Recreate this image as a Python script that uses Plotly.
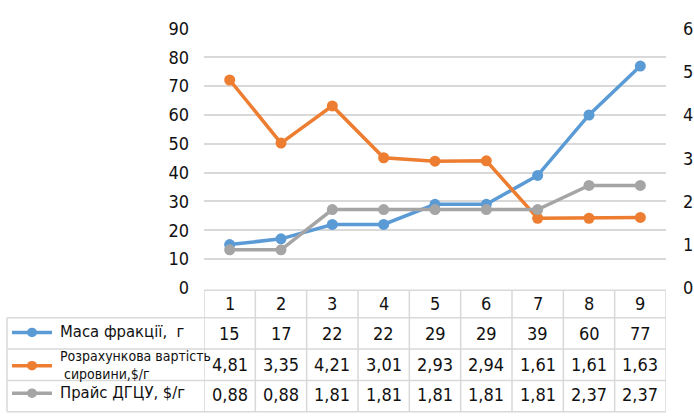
import plotly.graph_objects as go

# Fractions 1..9
categories = [1, 2, 3, 4, 5, 6, 7, 8, 9]

mass_name = "Маса фракції,  г"
mass = [15, 17, 22, 22, 29, 29, 39, 60, 77]

cost_name = "Розрахункова вартість<br> сировини,$/г"
cost = [4.81, 3.35, 4.21, 3.01, 2.93, 2.94, 1.61, 1.61, 1.63]

price_name = "Прайс ДГЦУ, $/г"
price = [0.88, 0.88, 1.81, 1.81, 1.81, 1.81, 1.81, 2.37, 2.37]

left_ticks = list(range(0, 91, 10))
right_ticks = list(range(0, 7, 1))

BLUE = "#5B9BD5"
ORANGE = "#ED7D31"
GREY = "#A5A5A5"
GRID = "#D9D9D9"
TEXT = "#111111"
FONT = "Liberation Sans Narrow, DejaVu Sans Condensed, Arial, sans-serif"

W, H = 694, 417


def py(y_px):
    """Convert a pixel row (from top) to paper y."""
    return (H - y_px) / H


def px(x_px):
    return x_px / W


plot_left, plot_right = 204, 666
plot_top, plot_bottom = 18.5, 291.5

fig = go.Figure()

series = [
    (mass_name, mass, BLUE, "y"),
    (cost_name, cost, ORANGE, "y2"),
    (price_name, price, GREY, "y2"),
]
for name, vals, color, yax in series:
    fig.add_trace(go.Scatter(
        x=categories, y=vals, name=name, yaxis=yax,
        mode="lines+markers",
        line=dict(color=color, width=3.5),
        marker=dict(color=color, size=11),
        showlegend=False, cliponaxis=False,
    ))

tick_font = dict(size=18, family=FONT, color=TEXT)

fig.update_layout(
    width=W, height=H,
    margin=dict(l=0, r=0, t=0, b=0),
    paper_bgcolor="white", plot_bgcolor="white",
    font=dict(family=FONT, color=TEXT),
    xaxis=dict(
        domain=[px(plot_left), px(plot_right)],
        range=[0.5, 9.5], showticklabels=False, showgrid=False,
        zeroline=False, showline=False, ticks="",
    ),
    yaxis=dict(
        domain=[py(plot_bottom), py(plot_top)],
        range=[0, 90], tickvals=left_ticks,
        showgrid=True, gridcolor=GRID, gridwidth=1.5,
        zeroline=False, showline=False, ticks="",
        tickfont=tick_font,
        ticklabelstandoff=14,
    ),
    yaxis2=dict(
        overlaying="y", side="right",
        range=[0, 6], tickvals=right_ticks,
        showgrid=False, zeroline=False, showline=False, ticks="",
        tickfont=tick_font,
        ticklabelstandoff=16,
    ),
)

# ---- data table under the chart ----
row_edges = [294, 323, 356, 389, 422]  # pixel rows of horizontal borders
table_left = 7
line_style = dict(color=GRID, width=1.5)

shapes = []
# horizontal borders
shapes.append(dict(type="line", xref="x", yref="paper", x0=0.5, x1=9.5,
                   y0=py(row_edges[0]), y1=py(row_edges[0]), line=line_style))
for y in row_edges[1:]:
    shapes.append(dict(type="line", xref="paper", yref="paper",
                       x0=px(table_left), x1=px(plot_right),
                       y0=py(y), y1=py(y), line=line_style))
# vertical borders
for k in range(len(categories) + 1):
    xb = 0.5 + k
    shapes.append(dict(type="line", xref="x", yref="paper", x0=xb, x1=xb,
                       y0=py(row_edges[0]), y1=py(row_edges[-1]), line=line_style))
shapes.append(dict(type="line", xref="paper", yref="paper",
                   x0=px(table_left), x1=px(table_left),
                   y0=py(row_edges[1]), y1=py(row_edges[-1]), line=line_style))

annotations = []
cell_font = dict(size=18, color=TEXT)
# header row: category numbers
hdr_y = py((row_edges[0] + row_edges[1]) / 2)
for c in categories:
    annotations.append(dict(x=c, y=hdr_y, xref="x", yref="paper", text=str(c),
                            showarrow=False, font=cell_font,
                            xanchor="center", yanchor="middle"))


def fmt(v):
    if float(v).is_integer():
        return str(int(v))
    return f"{v:.2f}".replace(".", ",")


label_sizes = [16.5, 14, 16.5]
for i, (name, vals, color, _) in enumerate(series):
    top, bot = row_edges[i + 1], row_edges[i + 2]
    yc_px = (top + bot) / 2
    if i == 2:
        yc_px -= 2
    yc = py(yc_px)
    for c, v in zip(categories, vals):
        annotations.append(dict(x=c, y=yc, xref="x", yref="paper", text=fmt(v),
                                showarrow=False, font=cell_font,
                                xanchor="center", yanchor="middle"))
    # legend key: short line with a marker
    ly = yc_px - 1 if i != 1 else yc_px + 1
    shapes.append(dict(type="line", xref="paper", yref="paper",
                       x0=px(12), x1=px(52), y0=py(ly), y1=py(ly),
                       line=dict(color=color, width=3.5)))
    shapes.append(dict(type="circle", xref="paper", yref="paper",
                       x0=px(27), x1=px(37), y0=py(ly + 5), y1=py(ly - 5),
                       fillcolor=color, line=dict(color=color, width=0)))
    annotations.append(dict(x=px(58), y=py(ly - 1), xref="paper", yref="paper",
                            text=name, showarrow=False, align="left",
                            font=dict(size=label_sizes[i], color=TEXT),
                            xanchor="left", yanchor="middle"))

fig.update_layout(shapes=shapes, annotations=annotations)

fig.write_html("out.html")
